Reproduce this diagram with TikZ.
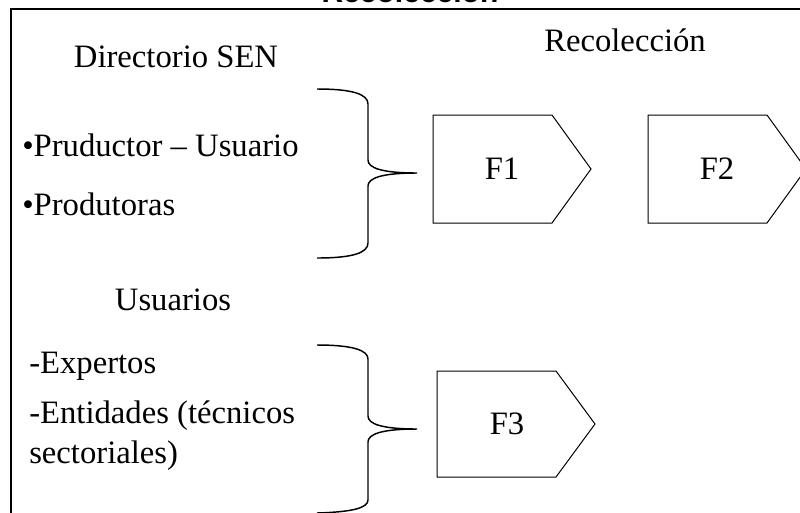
\documentclass[tikz,border=0pt]{standalone}
\usepackage{fontspec}
\setmainfont{Liberation Serif}
\newfontfamily\titlefont{Liberation Sans}
\begin{document}
\begin{tikzpicture}[x=0.75pt,y=-0.75pt,
  lbl/.style={font=\fontsize{24.5}{29}\selectfont, inner sep=0pt},
  lefttxt/.style={lbl, anchor=west},
  pent/.style={draw=black, line width=0.75pt},
  brace/.style={draw=black, line width=1.1pt},
  frame/.style={draw=black, line width=1.6pt}]
\useasboundingbox (0,0) rectangle (800,512);
\begin{scope}
\clip (0,0) rectangle (800,512);
% frame
\draw[frame] (11,9) -- (11,530) -- (830,530) -- (830,9) -- cycle;
% cut-off title
\node[font=\titlefont\bfseries\fontsize{22.5}{27}\selectfont, inner sep=0pt, anchor=base] (title) at (410,2) {Recolección};
% headings
\node[lbl] (dir) at (176,57) {Directorio SEN};
\node[lbl] (rec) at (625,40) {Recolección};
\node[lbl] (usu) at (173,300) {Usuarios};
% items
\node[lefttxt] (p1) at (22,145) {•Pruductor – Usuario};
\node[lefttxt] (p2) at (22,204) {•Produtoras};
\node[lefttxt] (u1) at (29,366) {-Expertos};
\node[lefttxt] (u2) at (29,416) {-Entidades (técnicos};
\node[lefttxt] (u3) at (29,456) {sectoriales)};
% braces
\draw[brace] (317,89) .. controls (352,89) and (368,94) .. (368,104)
  -- (368,160) .. controls (368,168) and (382,173) .. (417,173)
  .. controls (382,173) and (368,178) .. (368,186)
  -- (368,243) .. controls (368,253) and (352,258) .. (317,258);
\coordinate (b1) at (417,173);
\draw[brace] (317,345) .. controls (352,345) and (368,350) .. (368,359)
  -- (368,416) .. controls (368,424) and (382,429) .. (417,429)
  .. controls (382,429) and (368,434) .. (368,442)
  -- (368,500) .. controls (368,508) and (352,512) .. (317,513);
\coordinate (b2) at (417,429);
% pentagons
\draw[pent] (433,115) -- (552,115) -- (591,169) -- (552,223) -- (433,223) -- cycle;
\node[lbl] (f1) at (502,169) {F1};
\draw[pent] (648,115) -- (767,115) -- (806,169) -- (767,223) -- (648,223) -- cycle;
\node[lbl] (f2) at (717,169) {F2};
\draw[pent] (437,371) -- (556,371) -- (595,424) -- (556,477) -- (437,477) -- cycle;
\node[lbl] (f3) at (507,424) {F3};
\end{scope}
\end{tikzpicture}
\end{document}
